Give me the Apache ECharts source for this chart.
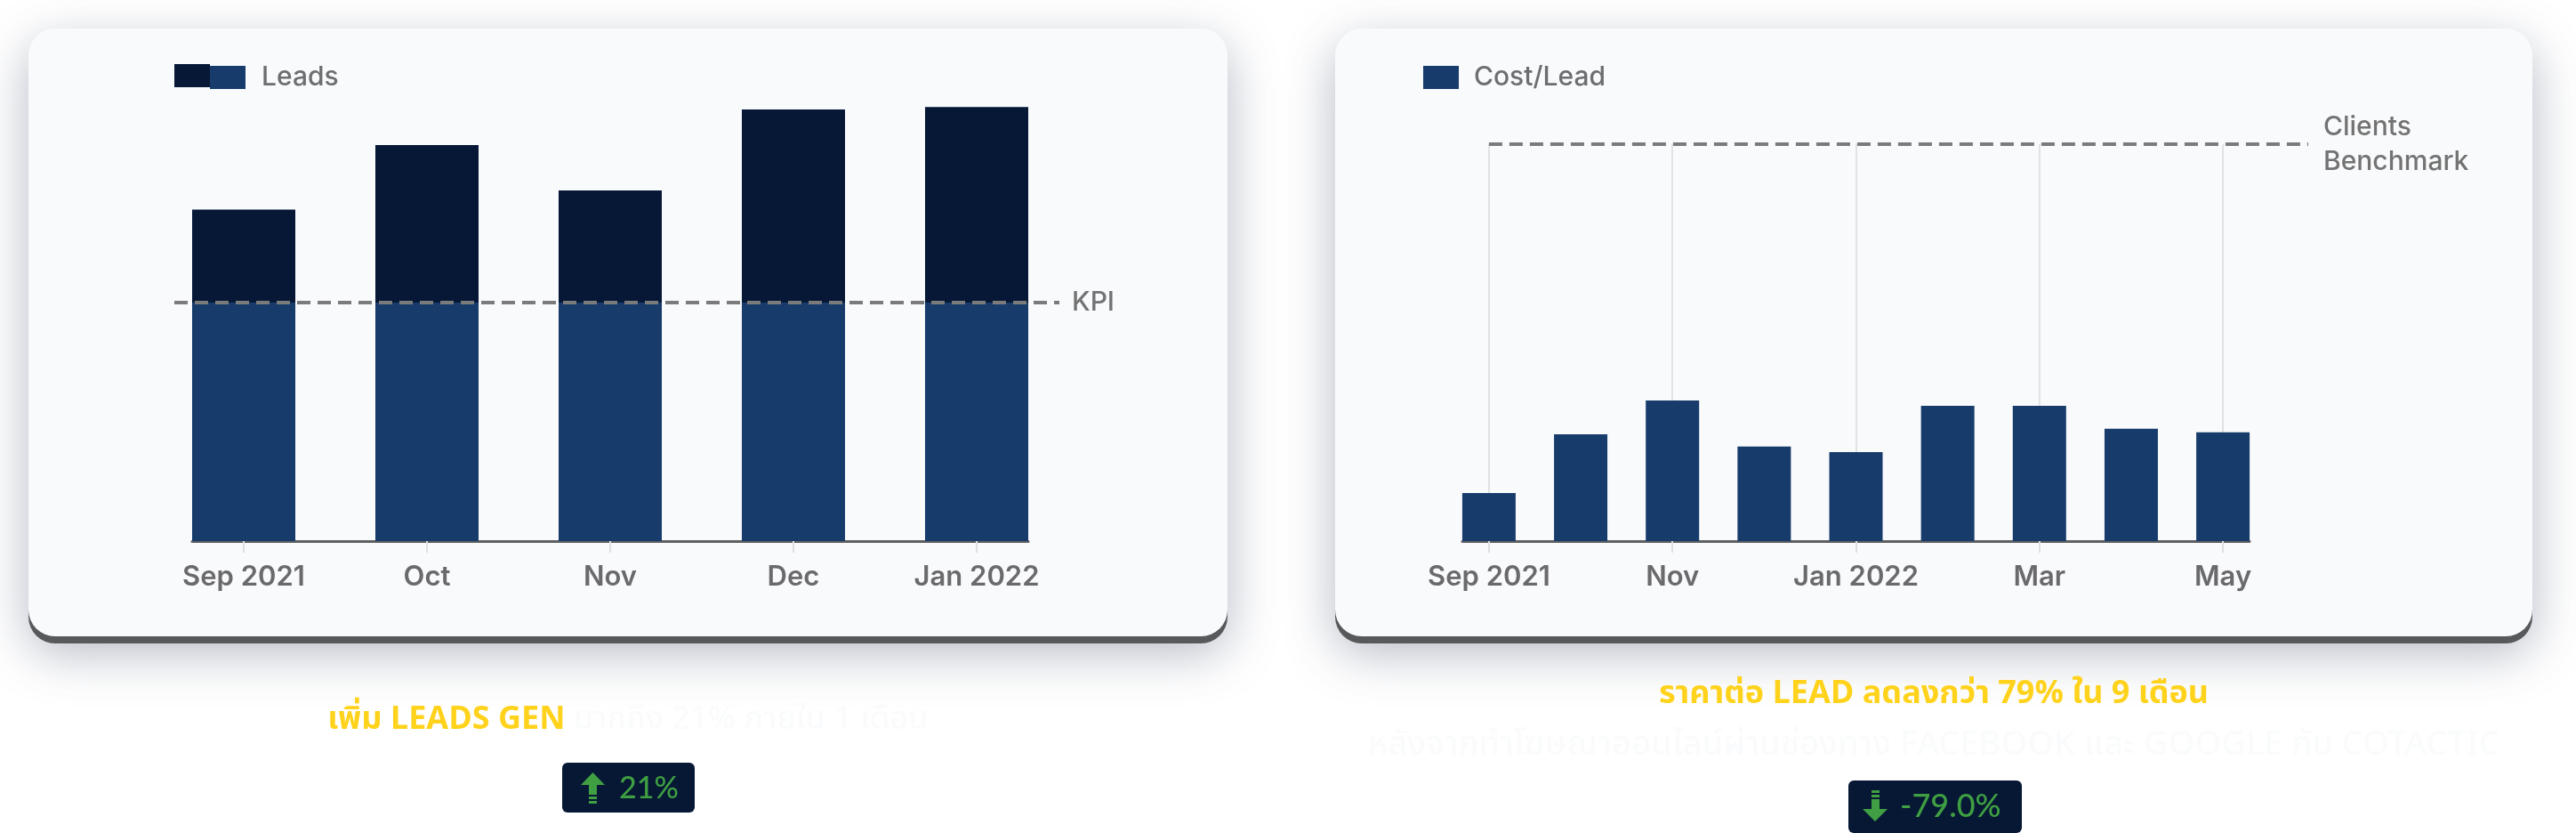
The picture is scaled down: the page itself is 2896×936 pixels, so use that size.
<!DOCTYPE html>
<html>
<head>
<meta charset="utf-8">
<script src="https://cdn.jsdelivr.net/npm/echarts@6/dist/echarts.min.js"></script>
<style>
html,body{margin:0;padding:0;background:#ffffff;}
#c{width:2896px;height:936px;}
</style>
</head>
<body>
<div id="c"></div>
<script>
// ---- data ----
const leadMonths = ['Sep 2021', 'Oct', 'Nov', 'Dec', 'Jan 2022'];
const leadValues = [139, 166, 147, 181, 182];
const leadKpi = 100;
const leadTickIdx = [0, 1, 2, 3, 4];

const costMonths = ['Sep 2021', 'Oct', 'Nov', 'Dec', 'Jan 2022', 'Feb', 'Mar', 'Apr', 'May'];
const costValues = [12.1, 26.9, 35.4, 23.8, 22.4, 34.1, 34.1, 28.3, 27.4];
const costBenchmark = 100;
const costTickIdx = [0, 2, 4, 6, 8];

const leftTitleYellow = 'เพิ่ม LEADS GEN';
const leftTitleFaint = 'มากถึง 21% ภายใน 1 เดือน';
const leftBadge = '21%';
const rightTitle = 'ราคาต่อ LEAD ลดลงกว่า 79% ใน 9 เดือน';
const rightSub = 'หลังจากทำโฆษณาออนไลน์ผ่านช่องทาง FACEBOOK และ GOOGLE กับ COTACTIC';
const rightBadge = '-79.0%';

// ---- styles ----
const DARK = '#061836';
const BLUE = '#173c6c';
const LABEL = '#6a6a6c';
const GREEN = '#3f9f42';
const YELLOW = '#ffd21c';
const FAINT = '#fafbfc';
const FONT = 'Inter, "Noto Sans", sans-serif';
const THAI = '"Noto Sans Thai", "Noto Sans", Lato, sans-serif';

function xAxisFor(gridIndex, cats, ticks, half, split) {
  return {
    type: 'value', gridIndex: gridIndex,
    min: -half, max: cats.length - 1 + half,
    axisLine: { show: true, onZero: false, lineStyle: { color: '#5f6062', width: 3 } },
    axisTick: { show: true, customValues: ticks, length: 13, lineStyle: { color: '#dfe0e2', width: 2 } },
    axisLabel: { customValues: ticks, formatter: v => cats[Math.round(v)], margin: 25,
      fontSize: 31, fontWeight: 600, color: LABEL, fontFamily: FONT },
    splitLine: { show: split, lineStyle: { color: '#e1e2e4', width: 2 } }
  };
}

function card(x, y, w, h) {
  return [
    { type: 'rect', z: -20, shape: { x: x, y: y + 8, width: w, height: h, r: 30 },
      style: { fill: '#58595b', shadowBlur: 55, shadowColor: 'rgba(60,72,100,0.38)', shadowOffsetY: 10 } },
    { type: 'rect', z: -19, shape: { x: x, y: y, width: w, height: h, r: 30 },
      style: { fill: '#f9fafc' } }
  ];
}

function badge(x, y, w, h) {
  return { type: 'rect', z: 5, shape: { x: x, y: y, width: w, height: h, r: 6 }, style: { fill: '#061834' } };
}

const chart = echarts.init(document.getElementById('c'), null, { renderer: 'canvas' });

const graphics = [].concat(
  card(32, 32, 1348, 683),
  card(1501, 32, 1346, 683),
  [
    {
      type: 'text', z: 5, x: 706, y: 812,
      style: {
        text: '{y|' + leftTitleYellow + '}{w| ' + leftTitleFaint + '}',
        align: 'center', verticalAlign: 'middle',
        rich: {
          y: { fill: YELLOW, fontSize: 36, fontWeight: 700, fontFamily: THAI },
          w: { fill: FAINT, fontSize: 36, fontWeight: 500, fontFamily: THAI }
        }
      }
    },
    badge(632, 857, 149, 56),
    { type: 'polygon', z: 6, shape: { points: [[666.5, 868], [680, 882], [653, 882]] }, style: { fill: GREEN } },
    { type: 'rect', z: 6, shape: { x: 662, y: 881, width: 9, height: 12 }, style: { fill: GREEN } },
    { type: 'rect', z: 6, shape: { x: 662, y: 895, width: 9, height: 3 }, style: { fill: GREEN } },
    { type: 'rect', z: 6, shape: { x: 662, y: 900, width: 9, height: 3 }, style: { fill: GREEN } },
    { type: 'text', z: 6, x: 696, y: 886,
      style: { text: leftBadge, fill: GREEN, fontSize: 34, fontWeight: 500, fontFamily: 'Lato, sans-serif',
        align: 'left', verticalAlign: 'middle' } },

    { type: 'text', z: 5, x: 2174, y: 783,
      style: { text: rightTitle, fill: YELLOW, fontSize: 36, fontWeight: 700, fontFamily: THAI,
        align: 'center', verticalAlign: 'middle' } },
    { type: 'text', z: 5, x: 2174, y: 840,
      style: { text: rightSub, fill: FAINT, fontSize: 38, fontWeight: 500, fontFamily: THAI,
        align: 'center', verticalAlign: 'middle' } },
    badge(2078, 877, 195, 59),
    { type: 'rect', z: 6, shape: { x: 2104, y: 888, width: 9, height: 3 }, style: { fill: GREEN } },
    { type: 'rect', z: 6, shape: { x: 2104, y: 893, width: 9, height: 3 }, style: { fill: GREEN } },
    { type: 'rect', z: 6, shape: { x: 2104, y: 898, width: 9, height: 12 }, style: { fill: GREEN } },
    { type: 'polygon', z: 6, shape: { points: [[2094, 909], [2122, 909], [2108, 923]] }, style: { fill: GREEN } },
    { type: 'text', z: 6, x: 2136, y: 906,
      style: { text: rightBadge, fill: GREEN, fontSize: 36, fontWeight: 500, fontFamily: 'Lato, sans-serif',
        align: 'left', verticalAlign: 'middle' } }
  ]
);

const legendText = { fontSize: 30, color: '#6d6e71', fontFamily: FONT, fontWeight: 500 };

chart.setOption({
  backgroundColor: '#ffffff',
  animation: false,
  graphic: { elements: graphics },
  legend: [
    { data: ['Leads'], left: 196, top: 72, padding: 0, itemWidth: 40, itemHeight: 26, icon: 'rect',
      selectedMode: false, formatter: () => '', textStyle: legendText },
    { data: ['Leads below KPI'], left: 236, top: 72, padding: 0, itemWidth: 40, itemHeight: 26, icon: 'rect',
      selectedMode: false, formatter: () => 'Leads', textStyle: Object.assign({ padding: [0, 0, 0, 13] }, legendText) },
    { data: ['Cost/Lead'], left: 1600, top: 72, padding: 0, itemWidth: 40, itemHeight: 26, icon: 'rect',
      selectedMode: false, textStyle: Object.assign({ padding: [0, 0, 0, 12] }, legendText) }
  ],
  grid: [
    { left: 216, right: 1740, top: 72, bottom: 328 },
    { left: 1644, right: 367, top: 162, bottom: 328 }
  ],
  xAxis: [
    xAxisFor(0, leadMonths, leadTickIdx, 0.2816, false),
    xAxisFor(1, costMonths, costTickIdx, 0.29, true)
  ],
  yAxis: [
    { type: 'value', gridIndex: 0, min: 0, max: 200, show: false },
    { type: 'value', gridIndex: 1, min: 0, max: costBenchmark, show: false }
  ],
  series: [
    {
      name: 'Leads', type: 'bar', xAxisIndex: 0, yAxisIndex: 0,
      data: leadValues.map((v, i) => [i, v]), barWidth: 116, barGap: '-100%',
      itemStyle: { color: DARK }
    },
    {
      name: 'Leads below KPI', type: 'bar', xAxisIndex: 0, yAxisIndex: 0, clip: false,
      data: leadValues.map((v, i) => [i, Math.min(v, leadKpi)]), barWidth: 116, barGap: '-100%',
      itemStyle: { color: BLUE },
      markLine: {
        symbol: 'none', silent: true, animation: false,
        lineStyle: { type: [15, 8], color: '#7b7b7b', width: 4 },
        label: { show: true, position: 'end', formatter: 'KPI', distance: 14, color: '#737373',
          fontSize: 30, fontFamily: FONT, fontWeight: 500 },
        emphasis: { disabled: true },
        data: [[{ x: 196, yAxis: leadKpi }, { x: 1191, yAxis: leadKpi }]]
      }
    },
    {
      name: 'Cost/Lead', type: 'bar', xAxisIndex: 1, yAxisIndex: 1, clip: false,
      data: costValues.map((v, i) => [i, v]), barWidth: 60,
      itemStyle: { color: BLUE },
      markLine: {
        symbol: 'none', silent: true, animation: false,
        lineStyle: { type: [15, 8], color: '#7b7b7b', width: 4 },
        label: { show: true, position: 'end', formatter: 'Clients\nBenchmark', distance: 17, color: '#737373',
          fontSize: 30, lineHeight: 39, align: 'left', fontFamily: FONT, fontWeight: 500 },
        emphasis: { disabled: true },
        data: [[{ xAxis: 0, yAxis: costBenchmark }, { x: 2595, yAxis: costBenchmark }]]
      }
    }
  ]
});
</script>
</body>
</html>
